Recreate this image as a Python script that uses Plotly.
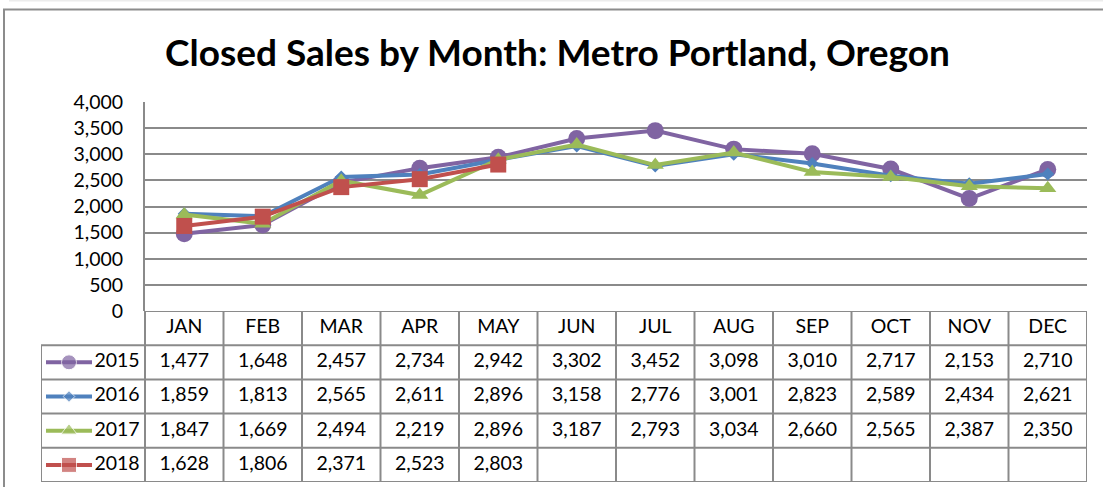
import plotly.graph_objects as go

# ---------------- data ----------------
months = ["JAN", "FEB", "MAR", "APR", "MAY", "JUN", "JUL", "AUG", "SEP", "OCT", "NOV", "DEC"]
years = ["2015", "2016", "2017", "2018"]
sales_2015 = [1477, 1648, 2457, 2734, 2942, 3302, 3452, 3098, 3010, 2717, 2153, 2710]
sales_2016 = [1859, 1813, 2565, 2611, 2896, 3158, 2776, 3001, 2823, 2589, 2434, 2621]
sales_2017 = [1847, 1669, 2494, 2219, 2896, 3187, 2793, 3034, 2660, 2565, 2387, 2350]
sales_2018 = [1628, 1806, 2371, 2523, 2803]
title_text = "Closed Sales by Month: Metro Portland, Oregon"

series = [sales_2015, sales_2016, sales_2017, sales_2018]
colors = ["#8064A2", "#4F81BD", "#9BBB59", "#C0504D"]
symbols = ["circle", "diamond", "triangle-up", "square"]
msizes = [17, 10, 15, 16]
leg_msizes = [15, 9, 14, 15]

# ---------------- layout geometry (pixels) ----------------
W, H = 1103, 487
def px(x): return x / W
def py(y): return 1 - y / H

PL, PR, PT, PB = 145, 1087, 102, 311          # plot area
TL, TB = 41, 482                               # table left / bottom
colw = (PR - PL) / len(months)
xmin2 = -0.5 - (PL - TL) / colw
FONT = "Lato"
GRID = "#8a8a8a"

fig = go.Figure()

# main line chart
for yr, vals, c, s, ms in zip(years, series, colors, symbols, msizes):
    fig.add_trace(go.Scatter(
        x=months[:len(vals)], y=vals, mode="lines+markers", name=yr,
        line=dict(color=c, width=4), marker=dict(symbol=s, size=ms, color=c),
        xaxis="x", yaxis="y", showlegend=False, hoverinfo="x+y+name"))

# data table: header
fig.add_trace(go.Scatter(
    x=list(range(len(months))), y=[0.5] * len(months), text=months, mode="text",
    textfont=dict(family=FONT, size=19.5, color="black"),
    xaxis="x2", yaxis="y2", showlegend=False, hoverinfo="skip"))

# data table: rows
for i, (yr, vals, c, s, lms) in enumerate(zip(years, series, colors, symbols, leg_msizes)):
    row = i + 1.5
    fig.add_trace(go.Scatter(
        x=list(range(len(vals))), y=[row] * len(vals),
        text=[f"{v:,}" for v in vals], mode="text",
        textfont=dict(family=FONT, size=19.5, color="black"),
        xaxis="x2", yaxis="y2", showlegend=False, hoverinfo="skip"))
    # legend key
    xa = xmin2 + (46 - TL) / colw
    xb = xmin2 + (92 - TL) / colw
    fig.add_trace(go.Scatter(
        x=[xa, (xa + xb) / 2, xb], y=[row] * 3, mode="lines+markers",
        line=dict(color=c, width=4),
        marker=dict(symbol=s, size=[0, lms, 0], color=c),
        xaxis="x2", yaxis="y2", showlegend=False, hoverinfo="skip"))
    fig.add_trace(go.Scatter(
        x=[xmin2 + (117 - TL) / colw], y=[row], text=[yr], mode="text",
        textfont=dict(family=FONT, size=19.5, color="black"),
        xaxis="x2", yaxis="y2", showlegend=False, hoverinfo="skip"))

shapes = []
# faint sheet edge at very top
shapes.append(dict(type="line", xref="paper", yref="paper",
                   x0=px(9), x1=1, y0=py(0.7), y1=py(0.7),
                   line=dict(color="#ececec", width=1.5)))
# outer chart border (only top/left visible)
shapes.append(dict(type="rect", xref="paper", yref="paper",
                   x0=px(4), x1=px(1115), y0=py(500), y1=py(9.5),
                   line=dict(color="#8c8c8c", width=2)))
# table lines
nrows = len(years) + 1
for k in range(len(months) + 1):
    shapes.append(dict(type="line", xref="x2", yref="y2", x0=k - 0.5, x1=k - 0.5,
                       y0=0, y1=nrows, line=dict(color=GRID, width=2)))
shapes.append(dict(type="line", xref="x2", yref="y2", x0=xmin2, x1=xmin2,
                   y0=1, y1=nrows, line=dict(color=GRID, width=2)))
shapes.append(dict(type="line", xref="x2", yref="y2", x0=-0.5, x1=11.5,
                   y0=0, y1=0, line=dict(color=GRID, width=2)))
for r in range(1, nrows + 1):
    shapes.append(dict(type="line", xref="x2", yref="y2", x0=xmin2, x1=11.5,
                       y0=r, y1=r, line=dict(color=GRID, width=2)))

fig.update_layout(
    width=W, height=H, margin=dict(l=0, r=0, t=0, b=0, pad=0, autoexpand=False),
    paper_bgcolor="white", plot_bgcolor="white",
    font=dict(family=FONT, color="black"),
    showlegend=False,
    shapes=shapes,
    annotations=[dict(text=f"<b>{title_text}</b>", xref="paper", yref="paper",
                      x=px(557), y=py(51), xanchor="center", yanchor="middle",
                      showarrow=False, font=dict(family=FONT, size=37, color="black"))],
    xaxis=dict(domain=[px(PL), px(PR)], range=[-0.5, 11.5], type="category",
               showgrid=False, showticklabels=False, zeroline=False, showline=False,
               fixedrange=True, automargin=False),
    yaxis=dict(domain=[py(PB), py(PT)], range=[0, 4000], dtick=500, tickformat=",",
               showgrid=True, gridcolor=GRID, gridwidth=2, zeroline=False,
               showline=True, linecolor=GRID, linewidth=2,
               ticks="outside", ticklen=16, tickcolor="rgba(0,0,0,0)",
               tickfont=dict(family=FONT, size=19.5, color="black"), fixedrange=True,
               automargin=False),
    xaxis2=dict(domain=[px(TL), px(PR)], range=[xmin2, 11.5], anchor="y2",
                showgrid=False, showticklabels=False, zeroline=False, showline=False,
                fixedrange=True, automargin=False),
    yaxis2=dict(domain=[py(TB), py(PB)], range=[nrows, 0], anchor="x2",
                showgrid=False, showticklabels=False, zeroline=False, showline=False,
                fixedrange=True, automargin=False),
)

fig.write_html(
    "out.html",
    config={"displayModeBar": False},
    post_script="var d=document.getElementById('{plot_id}');"
                "d.style.position='fixed';d.style.left='0px';d.style.top='0px';"
                "document.documentElement.style.margin='0';document.body.style.margin='0';"
                "document.body.style.padding='0';document.body.style.overflow='hidden';"
                "document.documentElement.style.overflow='hidden';",
)
